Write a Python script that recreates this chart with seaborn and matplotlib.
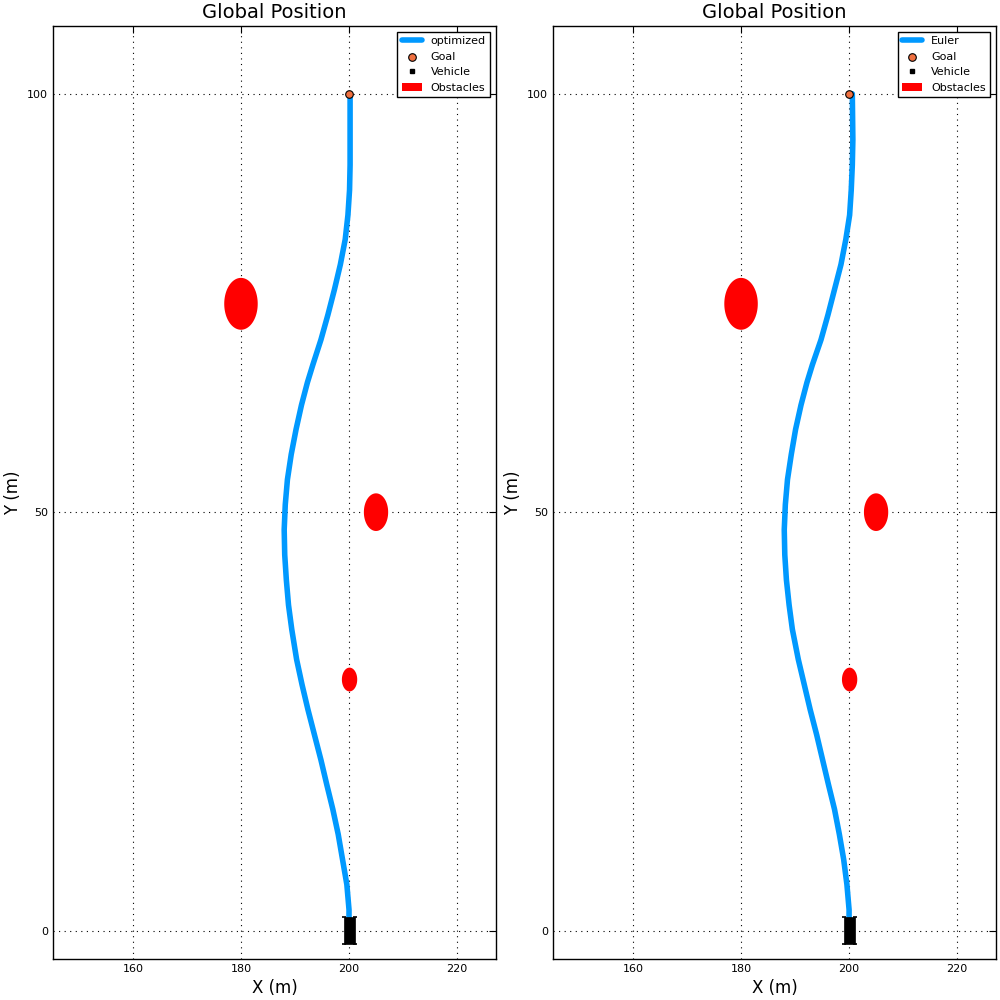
import numpy as np
import pandas as pd
import matplotlib
matplotlib.use("Agg")
import matplotlib.pyplot as plt
import seaborn as sns

# ---- data ----
panel_labels = ["optimized", "Euler"]
path_y = [0.0, 2.5, 5.5, 8.5, 11.5, 14.5, 17.4, 20.4, 23.4, 26.4, 29.4, 32.4,
          36.0, 38.9, 41.9, 44.9, 47.9, 50.9, 53.9, 56.9, 59.9, 62.8, 65.5,
          67.6, 70.6, 73.6, 76.6, 79.6, 82.6, 85.5, 88.5, 91.5, 94.5, 100.0]
path_x_opt = [200.0, 200.0, 199.6, 198.8, 198.0, 197.0, 195.9, 194.8, 193.6,
              192.4, 191.3, 190.3, 189.4, 188.8, 188.4, 188.1, 188.0, 188.2,
              188.6, 189.3, 190.2, 191.2, 192.3, 193.3, 194.8, 196.1, 197.3,
              198.4, 199.3, 199.8, 200.1, 200.2, 200.2, 200.2]
path_x_euler = [200.0, 200.0, 199.6, 199.0, 198.2, 197.3, 196.2, 195.1, 194.0,
                192.8, 191.7, 190.6, 189.5, 188.9, 188.4, 188.1, 188.0, 188.2,
                188.6, 189.3, 190.1, 191.1, 192.2, 193.2, 194.8, 196.1, 197.3,
                198.5, 199.4, 200.1, 200.4, 200.6, 200.7, 200.6]

goal_x = [200.0]
goal_y = [100.0]

vehicle_cx = [200.0]
vehicle_cy = [0.0]
vehicle_x = [199.0, 201.1, 201.1, 199.0]
vehicle_y = [-1.65, -1.65, 1.65, 1.65]

obstacle_x = [180.0, 205.0, 200.1]
obstacle_y = [74.9, 50.0, 30.0]
obstacle_r = [3.1, 2.25, 1.42]

x_ticks = [160, 180, 200, 220]
y_ticks = [0, 50, 100]

# ---- style ----
sns.set_style("white")
plt.rcParams["font.family"] = ["DejaVu Sans"]
plt.rcParams["text.color"] = "black"
plt.rcParams["axes.labelcolor"] = "black"
plt.rcParams["xtick.color"] = "black"
plt.rcParams["ytick.color"] = "black"

fig, axes = plt.subplots(1, 2, figsize=(10, 10), dpi=100)
fig.subplots_adjust(left=0.053, right=0.996, bottom=0.041, top=0.974, wspace=0.129)

blue = "#0099ff"
paths = [path_x_opt, path_x_euler]

for ax, lab, px in zip(axes, panel_labels, paths):
    df = pd.DataFrame({"x": px, "y": path_y})
    sns.lineplot(data=df, x="x", y="y", sort=False, estimator=None, ax=ax,
                 color=blue, lw=4, label=lab, zorder=3,
                 solid_capstyle="round", solid_joinstyle="round")
    ax.scatter(goal_x, goal_y, s=30, color="#f07040", edgecolor="black",
               linewidth=0.8, zorder=5, label="Goal")
    ax.fill(vehicle_x, vehicle_y, color="black", lw=0.5, zorder=4)
    ax.plot(vehicle_x, vehicle_y, "_", color="black", ms=3, mew=1.2, ls="",
            zorder=4)
    ax.plot(vehicle_cx, vehicle_cy, "s", color="black", ms=2.5, ls="",
            zorder=4, label="Vehicle")
    t = np.linspace(0, 2 * np.pi, 100)
    for i, (cx, cy, r) in enumerate(zip(obstacle_x, obstacle_y, obstacle_r)):
        ax.fill(cx + r * np.cos(t), cy + r * np.sin(t), color="red", lw=0,
                zorder=2, label="Obstacles" if i == 0 else None)

    ax.set_xlim(145.2, 227.2)
    ax.set_ylim(-3.4, 108.1)
    ax.set_xticks(x_ticks)
    ax.set_yticks(y_ticks)
    ax.grid(True, linestyle=(0, (1, 4)), color="black", lw=0.8)
    ax.tick_params(direction="in", top=True, right=True, length=5,
                   labelsize=8, width=0.8, colors="black")
    for s in ax.spines.values():
        s.set_color("black")
        s.set_linewidth(1.0)
    ax.set_title("Global Position", fontsize=14)
    ax.set_xlabel("X (m)", fontsize=12)
    ax.set_ylabel("Y (m)", fontsize=12)
    leg = ax.legend(loc="upper right", fontsize=8, fancybox=False, frameon=True,
                    numpoints=1, scatterpoints=1, borderaxespad=0.5,
                    handlelength=1.8)
    leg.get_frame().set_edgecolor("black")
    leg.get_frame().set_linewidth(1.0)
    leg.get_frame().set_alpha(1)

fig.savefig("out.png", dpi=100, facecolor="white")
